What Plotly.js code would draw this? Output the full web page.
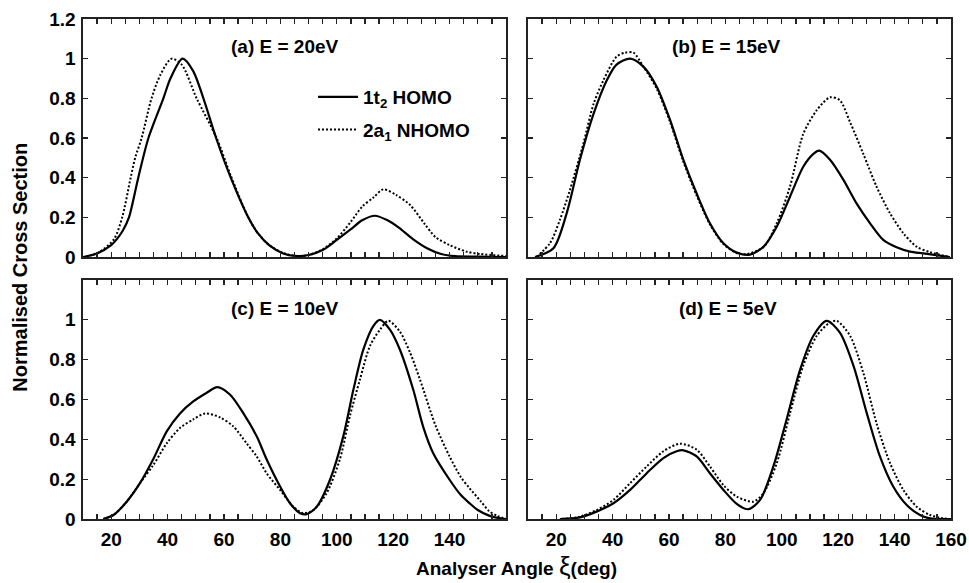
<!DOCTYPE html>
<html>
<head>
<meta charset="utf-8">
<script src="https://cdn.plot.ly/plotly-3.0.1.min.js"></script>
<style>html,body{margin:0;padding:0;background:#fff;}#chart{width:969px;height:583px;}</style>
</head>
<body>
<div id="chart"></div>
<script>
// ---- data (angle in deg, normalised cross section) ----
const seriesNames = ['1t<sub>2</sub> HOMO', '2a<sub>1</sub> NHOMO'];
const panelLabels = ['(a) E = 20eV', '(b) E = 15eV', '(c) E = 10eV', '(d) E = 5eV'];
const xTickLabelsC = [20, 40, 60, 80, 100, 120, 140];
const xTickLabelsD = [20, 40, 60, 80, 100, 120, 140, 160];
const yTickLabelsTop = [0, 0.2, 0.4, 0.6, 0.8, 1, 1.2];
const yTickLabelsBottom = [0, 0.2, 0.4, 0.6, 0.8, 1];

// (a) E = 20 eV
const angleA_homo = [10,15,20,22,24.2,26.3,29.6,33.2,38.5,41,45.3,49,52.7,57.2,62.4,68.6,72,76,81,86,90,95,100,105,109,113.5,118,122,127,132,137,142,150,160];
const csA_homo    = [0,0.018,0.06,0.09,0.135,0.2,0.4,0.6,0.8,0.9,1.0,0.94,0.8,0.6,0.4,0.2,0.12,0.06,0.018,0.005,0.01,0.035,0.086,0.14,0.185,0.208,0.185,0.148,0.09,0.044,0.015,0.004,0.002,0];
const angleA_nhomo = [11,16,21,23.9,26.9,28.5,30.8,34.3,37.5,41.4,45,50.3,57.4,62.4,68.6,72,76,81,86,90,95,100,105,109,113,116.5,121,126,131,135,140,146,151,160];
const csA_nhomo    = [0,0.027,0.09,0.2,0.4,0.5,0.6,0.8,0.92,1.0,0.97,0.8,0.6,0.41,0.2,0.12,0.06,0.02,0.005,0.01,0.039,0.094,0.178,0.254,0.30,0.341,0.313,0.262,0.17,0.10,0.06,0.027,0.015,0.005];

// (b) E = 15 eV
const angleB_homo = [12.5,19,23.7,28.4,33.2,37.9,41.4,46.2,50.9,55.6,60.4,65.1,69.8,74.5,79.3,84,88.7,93.5,98.2,102.9,107.6,111.2,113.3,117.1,121.8,126.5,131.3,136,140.7,145.5,150.2,159.6];
const csB_homo    = [0,0.044,0.22,0.49,0.72,0.89,0.97,1.0,0.96,0.86,0.69,0.49,0.32,0.17,0.069,0.022,0.012,0.052,0.153,0.304,0.455,0.52,0.536,0.49,0.39,0.27,0.17,0.086,0.049,0.027,0.018,0];
const angleB_nhomo = [13,17.8,21.3,24.9,29.6,33.2,36.7,41.4,44.4,47.4,50.9,55.6,60.4,65.1,69.8,74.5,79.3,84,87.5,93.5,98.2,102.9,107.6,112.4,117.1,120.6,124.2,128.9,133.6,138.4,143.1,147.8,152.6,159.6];
const csB_nhomo    = [0,0.07,0.187,0.34,0.57,0.77,0.89,1.01,1.03,1.03,0.96,0.85,0.68,0.48,0.31,0.165,0.065,0.02,0.015,0.05,0.17,0.355,0.62,0.74,0.805,0.79,0.68,0.52,0.355,0.22,0.12,0.052,0.024,0];

// (c) E = 10 eV
const angleC_homo = [17.2,20.8,25.5,30.2,34.9,39.7,44.4,49.1,53.9,57.6,62.1,66.9,71.6,75.1,79.9,83.4,87,89.3,92.9,97.6,102.3,105.9,109.4,113,115.3,118.9,122.4,127.1,130.7,134.2,140,144,147,150,154,158,160];
const csC_homo    = [0,0.02,0.087,0.18,0.30,0.44,0.53,0.59,0.634,0.662,0.625,0.53,0.415,0.30,0.163,0.079,0.029,0.024,0.062,0.197,0.415,0.65,0.85,0.97,1.0,0.95,0.85,0.65,0.46,0.33,0.197,0.12,0.08,0.045,0.017,0.003,0];
const angleC_nhomo = [17.2,20.8,25.5,30.2,34.9,39.7,44.4,49.1,53.3,58.6,63.3,68,71.6,75.1,79.9,84.6,88.1,91.7,96.4,101.1,104.7,108.2,111.8,115.3,118.3,122.4,126,129.5,135,140,144,147,151,154,157,160];
const csC_nhomo    = [0,0.02,0.087,0.18,0.27,0.38,0.457,0.5,0.53,0.51,0.465,0.38,0.314,0.23,0.146,0.062,0.029,0.045,0.13,0.30,0.52,0.70,0.87,0.95,0.995,0.94,0.835,0.70,0.47,0.314,0.21,0.156,0.09,0.04,0.015,0];

// (d) E = 5 eV
const angleD_homo = [21.3,28.4,34.3,40.3,46.2,52.1,58,62.7,65.1,69.8,74.5,79.3,84,88.1,92.3,97,101.7,106.5,111.2,115.9,120.6,125.4,130.1,134.8,139.5,144.3,149,152.6,160];
const csD_homo    = [0,0.008,0.037,0.079,0.146,0.23,0.306,0.34,0.345,0.314,0.23,0.146,0.076,0.049,0.096,0.264,0.50,0.75,0.92,0.995,0.936,0.77,0.533,0.314,0.163,0.07,0.02,0.003,0];
const angleD_nhomo = [22,28,34.3,40.3,46.2,52.1,58,63.9,69.8,74.5,79.3,84,89.9,93.5,98.2,102.9,107.6,112.4,117.1,119.5,124.2,128.9,133.6,138.4,143.1,147.8,152.6,157.3,160];
const csD_nhomo    = [0,0.01,0.045,0.096,0.18,0.264,0.34,0.378,0.348,0.264,0.17,0.113,0.087,0.13,0.28,0.53,0.77,0.92,0.987,0.995,0.92,0.734,0.48,0.28,0.146,0.062,0.02,0.003,0];

// ---- build traces ----
const FONT = 'Liberation Sans, Arial, sans-serif';
const panels = [
  {xa:'x',  ya:'y',  hx:angleA_homo, hy:csA_homo, nx:angleA_nhomo, ny:csA_nhomo},
  {xa:'x2', ya:'y2', hx:angleB_homo, hy:csB_homo, nx:angleB_nhomo, ny:csB_nhomo},
  {xa:'x3', ya:'y3', hx:angleC_homo, hy:csC_homo, nx:angleC_nhomo, ny:csC_nhomo},
  {xa:'x4', ya:'y4', hx:angleD_homo, hy:csD_homo, nx:angleD_nhomo, ny:csD_nhomo}
];
const traces = [];
panels.forEach((p, i) => {
  traces.push({x:p.hx, y:p.hy, xaxis:p.xa, yaxis:p.ya, type:'scatter', mode:'lines',
    name:seriesNames[0], showlegend:i===0, legendgroup:'homo',
    line:{color:'#000', width:2.2, shape:'spline', smoothing:0.8}});
  traces.push({x:p.nx, y:p.ny, xaxis:p.xa, yaxis:p.ya, type:'scatter', mode:'lines',
    name:seriesNames[1], showlegend:i===0, legendgroup:'nhomo',
    line:{color:'#000', width:2, dash:'2px,2px', shape:'spline', smoothing:0.8}});
});

const tickfont = {family:FONT, size:19, color:'#000', weight:700};
function xax(domain, anchor, tickvals) {
  return {domain:domain, anchor:anchor, range:[10,160], showline:true, linecolor:'#222', linewidth:1.6,
    mirror:'ticks', ticks:'inside', ticklen:5, tickwidth:1.3, tickcolor:'#222',
    tickmode:'array', tickvals:tickvals || [], showticklabels:!!tickvals, tickfont:tickfont,
    ticklabelstandoff:3,
    minor:{dtick:5, tick0:10, ticks:'inside', ticklen:5, tickwidth:1.3, tickcolor:'#222', showgrid:false},
    showgrid:false, zeroline:false, fixedrange:true};
}
function yax(domain, anchor, tickvals, labels) {
  return {domain:domain, anchor:anchor, range:[0,1.2], showline:true, linecolor:'#222', linewidth:1.6,
    mirror:'ticks', ticks:'inside', ticklen:5, tickwidth:1.3, tickcolor:'#222',
    tickmode:'array', tickvals:tickvals, showticklabels:labels, tickfont:tickfont,
    ticklabelstandoff:2,
    showgrid:false, zeroline:false, fixedrange:true};
}
const dl = [0, 0.4873], dr = [0.5127, 1], dt = [0.524, 1], db = [0, 0.478];

const annFont = {family:FONT, size:19, color:'#000', weight:700};
const layout = {
  width:969, height:583,
  margin:{l:83, r:18, t:19, b:64},
  paper_bgcolor:'#fff', plot_bgcolor:'#fff',
  font:{family:FONT, color:'#000'},
  showlegend:true,
  legend:{x:0.265, y:0.882, xanchor:'left', yanchor:'top', bgcolor:'rgba(0,0,0,0)',
    font:{family:FONT, size:19, color:'#000', weight:700}, itemwidth:40, tracegroupgap:5},
  xaxis: xax(dl, 'y'),
  yaxis: yax(dt, 'x', yTickLabelsTop, true),
  xaxis2: xax(dr, 'y2'),
  yaxis2: yax(dt, 'x2', yTickLabelsTop, false),
  xaxis3: xax(dl, 'y3', xTickLabelsC),
  yaxis3: yax(db, 'x3', yTickLabelsBottom, true),
  xaxis4: xax(dr, 'y4', xTickLabelsD),
  yaxis4: yax(db, 'x4', yTickLabelsBottom, false),
  annotations:[
    {text:panelLabels[0], xref:'x',  yref:'y',  x:81.5, y:1.06, showarrow:false, font:annFont},
    {text:panelLabels[1], xref:'x2', yref:'y2', x:80.5, y:1.06, showarrow:false, font:annFont},
    {text:panelLabels[2], xref:'x3', yref:'y3', x:81.5, y:1.055, showarrow:false, font:annFont},
    {text:panelLabels[3], xref:'x4', yref:'y4', x:80.9, y:1.055, showarrow:false, font:annFont},
    {text:'Normalised Cross Section', xref:'paper', yref:'paper', x:-0.0735, y:0.503, textangle:-90,
      showarrow:false, xanchor:'center', yanchor:'middle', font:{family:FONT, size:20, color:'#000', weight:700}},
    {text:'Analyser Angle <span style="font-size:26px;font-weight:400">ξ</span>(deg)', xref:'paper', yref:'paper',
      x:0.499, y:-0.128, showarrow:false, xanchor:'center', yanchor:'bottom',
      font:{family:FONT, size:19, color:'#000', weight:700}}
  ]
};
Plotly.newPlot('chart', traces, layout, {displayModeBar:false, staticPlot:true});
</script>
</body>
</html>
